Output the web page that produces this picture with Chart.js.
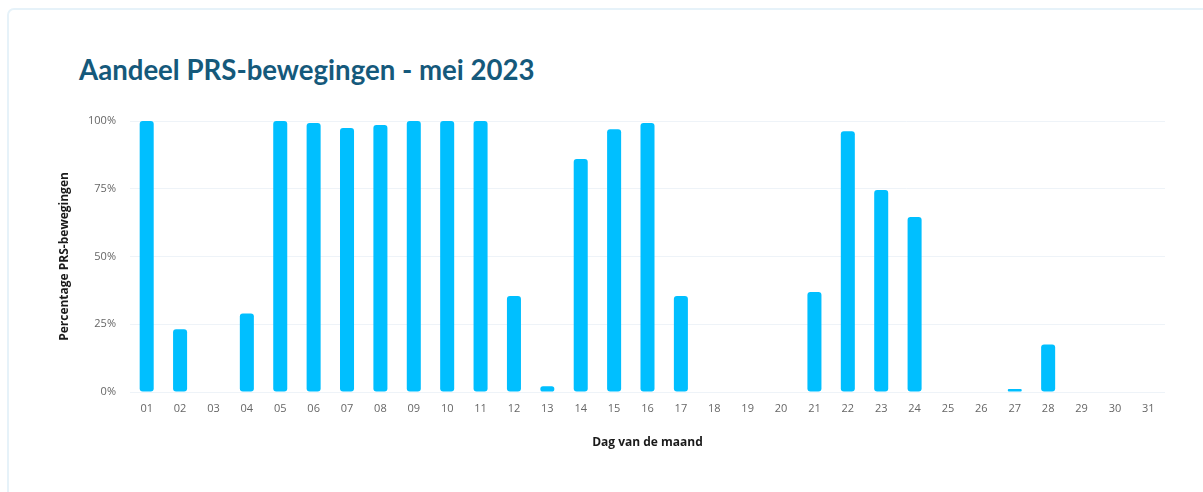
<!DOCTYPE html>
<html>
<head>
<meta charset="utf-8">
<script src="https://cdn.jsdelivr.net/npm/chart.js@4.4.1/dist/chart.umd.min.js"></script>
<style>
  html, body { margin: 0; padding: 0; background: #ffffff; width: 1203px; height: 492px; overflow: hidden; }
  #card { position: absolute; left: 7px; top: 8px; width: 1230px; height: 520px; border: 2px solid #e6f2f9; border-radius: 7px; box-sizing: border-box; background: #fff; }
  #title { position: absolute; left: 79px; top: 50px; margin: 0; font-family: Lato, "Open Sans", sans-serif; font-weight: 700; font-size: 27.6px; color: #15597b; white-space: nowrap; line-height: 40px; }
  #wrap { position: absolute; left: 0; top: 0; width: 1203px; height: 492px; }
</style>
</head>
<body>
<div id="card"></div>
<h2 id="title">Aandeel PRS-bewegingen - mei 2023</h2>
<div id="wrap"><canvas id="c"></canvas></div>
<script>
const days = ["01","02","03","04","05","06","07","08","09","10","11","12","13","14","15","16","17","18","19","20","21","22","23","24","25","26","27","28","29","30","31"];
const prsShare = [100, 23.2, 0, 29.0, 100, 99.3, 97.4, 98.5, 100, 100, 100, 35.4, 2.1, 86.0, 97.0, 99.3, 35.4, 0, 0, 0, 36.9, 96.2, 74.5, 64.6, 0, 0, 1.1, 17.5, 0, 0, 0];
const yTicks = [0, 25, 50, 75, 100];
const yTitle = "Percentage PRS-bewegingen";
const xTitle = "Dag van de maand";

const tickFont = { family: "'Open Sans', sans-serif", size: 11 };
const titleFont = { family: "'Open Sans', sans-serif", size: 12, weight: "bold" };

new Chart(document.getElementById('c'), {
  type: 'bar',
  data: {
    labels: days,
    datasets: [{
      label: yTitle,
      data: prsShare,
      backgroundColor: '#00bfff',
      borderRadius: 3,
      borderSkipped: false,
      barPercentage: 0.5,
      categoryPercentage: 0.84
    }]
  },
  options: {
    responsive: true,
    maintainAspectRatio: false,
    animation: false,
    layout: { padding: { left: 53, right: 38, top: 121, bottom: 35 } },
    plugins: { legend: { display: false }, tooltip: { enabled: false } },
    scales: {
      x: {
        grid: { display: false, drawTicks: false },
        border: { display: false },
        ticks: { color: '#666666', font: tickFont, padding: 10, maxRotation: 0, autoSkip: false },
        title: { display: true, text: xTitle, color: '#1a1a1a', font: titleFont, padding: { top: 9, bottom: 7 } },
        afterFit: s => { s.height = 65; }
      },
      y: {
        min: 0, max: 100,
        afterBuildTicks: s => { s.ticks = yTicks.map(v => ({ value: v })); },
        grid: { color: '#eef3f8', drawTicks: false, lineWidth: 1 },
        border: { display: false },
        ticks: { color: '#666666', font: tickFont, padding: 14, callback: v => v + '%' },
        title: { display: true, text: yTitle, color: '#1a1a1a', font: titleFont, padding: { top: 4, bottom: 4 } },
        afterFit: s => { s.width = 77; }
      }
    }
  }
});
</script>
</body>
</html>
